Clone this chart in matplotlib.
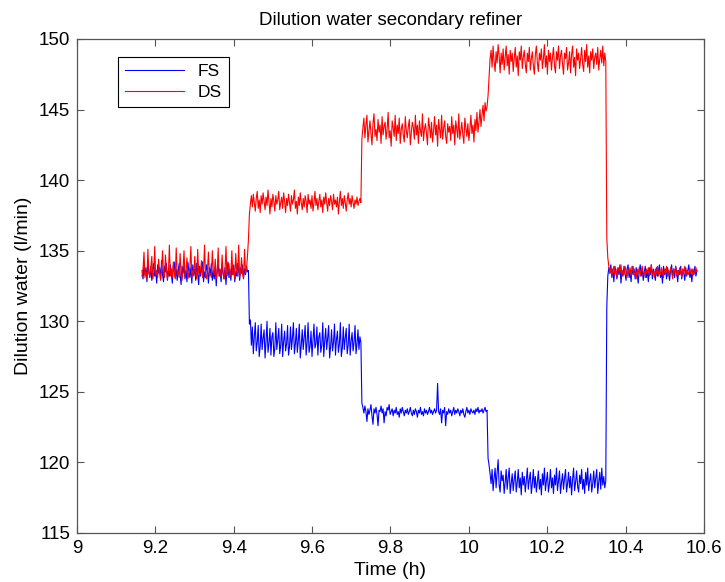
import matplotlib
matplotlib.use("Agg")
import matplotlib.pyplot as plt
import numpy as np

# step boundaries (h)
seg_edges = [9.166, 9.44, 9.727, 10.049, 10.352, 10.582]

# dilution water (l/min), one list per set-point segment
fs_seg1 = [133.6, 133.0, 134.0, 133.3, 133.8, 132.8, 134.2, 133.5, 133.1, 133.9,
           132.9, 133.7, 134.1, 133.2, 133.6, 132.7, 134.0, 133.4, 133.8, 133.0,
           134.3, 133.3, 132.8, 133.9, 133.5, 134.1, 132.9, 133.6, 133.2, 134.0,
           133.4, 132.7, 133.8, 134.2, 133.1, 133.7, 132.9, 133.5, 134.1, 133.3,
           132.6, 133.9, 133.4, 134.0, 133.0, 133.6, 132.8, 134.2, 133.5, 133.1,
           133.8, 132.7, 134.0, 133.3, 133.7, 132.9, 134.1, 133.4, 132.6, 133.9,
           133.2, 133.7, 134.2, 132.8, 133.5, 133.1, 134.0, 133.6, 132.7, 133.8,
           133.3, 134.1, 132.9, 133.6, 133.0, 133.9, 132.5, 133.7, 134.0, 133.2,
           133.5, 132.8, 134.1, 133.4, 133.0, 133.8, 132.6, 133.6, 134.2, 133.1,
           133.7, 132.9, 133.9, 133.3, 134.0, 132.8, 133.5, 133.2, 134.1, 133.6,
           132.9, 133.8, 133.4, 134.0, 133.1, 133.7, 133.3, 133.9, 133.5, 133.6]
fs_seg2 = [129.8, 130.1, 128.3, 129.6, 127.7, 128.9, 129.9, 127.9, 128.5, 129.7,
           127.5, 128.2, 129.8, 128.0, 128.8, 129.4, 127.4, 128.6, 130.0, 127.8,
           128.4, 129.5, 127.6, 128.9, 129.2, 127.5, 128.1, 129.9, 128.0, 128.7,
           129.5, 127.7, 128.3, 129.8, 127.5, 128.6, 129.3, 127.9, 128.4, 129.7,
           127.6, 128.2, 129.6, 128.0, 128.8, 129.9, 127.7, 128.4, 129.5, 127.8,
           128.6, 129.8, 127.4, 128.3, 129.4, 128.0, 128.9, 129.7, 127.6, 128.5,
           129.9, 127.8, 128.2, 129.3, 127.5, 128.7, 129.8, 128.1, 128.4, 129.6,
           127.6, 128.9, 129.2, 127.8, 128.3, 129.9, 127.5, 128.6, 129.5, 128.0,
           128.8, 129.7, 127.4, 128.2, 129.4, 127.9, 128.5, 129.8, 127.6, 128.7,
           129.3, 127.8, 128.4, 129.9, 127.5, 128.1, 129.6, 128.0, 128.8, 129.5,
           127.7, 128.3, 129.8, 127.6, 128.6, 129.2, 127.9, 128.5, 129.7, 127.7,
           128.4, 129.4, 128.0, 128.9, 128.5]
fs_seg3 = [124.2, 123.9, 123.5, 124.0, 123.6, 122.9, 123.8, 123.4, 123.7, 124.1,
           123.3, 122.7, 123.8, 123.5, 123.9, 123.4, 122.6, 123.7, 123.6, 124.0,
           123.5, 123.8, 122.8, 123.6, 123.3, 123.9, 123.7, 124.1, 123.4, 123.6,
           123.8, 123.3, 123.7, 123.5, 123.9, 123.4, 123.6, 123.2, 123.8, 123.5,
           123.9, 123.6, 123.3, 123.7, 123.5, 123.8, 123.4, 123.6, 123.9, 123.5,
           123.3, 123.7, 123.4, 123.8, 123.6, 123.2, 123.7, 123.5, 123.9, 123.4,
           123.6, 123.3, 123.8, 123.5, 123.7, 123.4, 123.6, 123.9, 123.5, 123.7,
           123.4, 123.6, 123.8, 123.5, 123.7, 125.6, 123.6, 123.4, 123.8, 122.8,
           123.7, 123.5, 123.9, 122.6, 123.6, 123.4, 123.8, 123.5, 123.7, 123.3,
           123.6, 123.9, 123.4, 123.7, 123.5, 123.8, 123.6, 123.3, 123.7, 123.5,
           123.8, 123.4, 123.2, 123.6, 123.9, 123.5, 123.7, 123.4, 123.8, 123.6,
           123.5, 123.7, 123.4, 123.8, 123.6, 123.9, 123.5, 123.7, 123.6, 123.8,
           123.5, 123.7, 123.9, 123.6, 123.7]
fs_seg4 = [120.3, 119.8, 119.2, 118.5, 119.5, 118.0, 118.9, 119.6, 118.2, 119.3,
           120.2, 118.4, 117.9, 119.4, 118.7, 119.1, 117.8, 118.6, 119.5, 118.1,
           118.9, 119.6, 117.8, 118.5, 119.2, 118.0, 118.8, 119.4, 117.9, 118.6,
           119.5, 118.2, 118.9, 117.7, 119.3, 118.4, 119.0, 117.9, 118.7, 119.6,
           118.1, 118.8, 119.3, 117.8, 118.5, 119.5, 118.2, 119.0, 117.9, 118.6,
           119.4, 118.1, 118.8, 117.7, 119.2, 118.4, 119.6, 118.0, 118.7, 119.3,
           117.9, 118.5, 119.5, 118.2, 118.9, 117.8, 119.1, 118.4, 119.6, 118.0,
           118.7, 119.4, 117.8, 118.6, 119.2, 118.1, 118.9, 119.5, 117.9, 118.5,
           119.3, 118.2, 119.0, 117.7, 118.8, 119.6, 118.0, 118.6, 119.4, 118.3,
           117.9, 119.1, 118.5, 119.5, 118.1, 118.8, 117.8, 119.3, 118.4, 119.6,
           118.0, 118.7, 119.2, 117.9, 118.5, 119.4, 118.2, 118.9, 119.5, 117.8,
           118.6, 119.3, 118.1, 119.6, 118.4, 119.0, 118.2, 118.7]
fs_seg5 = [131.0, 133.2, 133.8, 133.4, 134.0, 133.1, 133.7, 132.8, 133.9, 133.5,
           133.0, 133.8, 133.3, 134.0, 132.7, 133.6, 133.2, 133.9, 133.4, 132.9,
           133.7, 134.0, 133.1, 133.5, 132.8, 133.9, 133.3, 133.7, 133.0, 133.8,
           133.4, 132.7, 133.6, 134.0, 133.2, 133.7, 132.9, 133.5, 133.9, 133.1,
           133.6, 132.8, 133.8, 133.3, 134.0, 133.0, 133.7, 133.4, 132.9, 133.8,
           133.2, 133.6, 134.0, 133.1, 133.5, 132.7, 133.9, 133.3, 133.7, 133.0,
           133.8, 133.4, 132.9, 133.6, 134.0, 133.2, 133.7, 133.1, 133.9, 133.5,
           132.8, 133.6, 133.3, 133.9, 133.0, 133.7, 133.4, 132.9, 133.8, 133.2,
           133.6, 134.0, 133.1, 133.5, 132.8, 133.7, 133.3, 133.9, 133.2, 133.6]

ds_seg1 = [133.2, 133.7, 134.9, 133.1, 133.5, 133.0, 135.1, 133.4, 133.2, 133.8,
           134.6, 133.0, 133.4, 135.3, 133.2, 133.6, 133.1, 134.4, 133.5, 132.9,
           133.7, 135.0, 133.3, 133.1, 134.7, 133.6, 133.0, 133.4, 135.4, 133.2,
           133.7, 133.1, 134.2, 133.5, 133.0, 135.2, 133.3, 133.6, 133.1, 134.8,
           133.4, 132.9, 133.7, 135.0, 133.2, 133.5, 134.5, 133.0, 133.4, 133.8,
           135.3, 133.1, 133.6, 133.2, 134.6, 133.4, 133.0, 135.1, 133.5, 133.2,
           133.7, 134.3, 133.1, 133.5, 135.4, 133.3, 133.0, 133.6, 134.9, 133.2,
           133.4, 133.1, 135.0, 133.6, 133.3, 134.4, 133.0, 133.5, 135.2, 133.2,
           133.7, 133.1, 134.7, 133.4, 133.0, 133.6, 135.3, 133.2, 133.5, 134.1,
           133.1, 133.4, 135.0, 133.3, 133.7, 133.0, 134.8, 133.5, 133.2, 135.4,
           133.1, 133.6, 134.5, 133.3, 133.0, 135.1, 133.4, 133.7, 134.6, 135.8]
ds_seg2 = [137.6, 138.3, 138.9, 138.1, 139.0, 138.4, 137.8, 138.7, 139.2, 138.0,
           138.6, 137.7, 138.9, 138.3, 139.1, 138.5, 137.9, 138.8, 138.2, 139.3,
           138.4, 137.6, 138.7, 138.1, 139.0, 138.5, 137.8, 138.9, 138.3, 138.6,
           139.2, 137.9, 138.4, 138.8, 138.0, 139.1, 138.5, 137.7, 138.7, 138.2,
           139.0, 138.4, 137.8, 138.9, 138.3, 138.6, 139.3, 138.0, 138.5, 137.6,
           138.8, 138.2, 139.1, 138.4, 137.9, 138.7, 138.1, 138.9, 138.5, 137.7,
           139.0, 138.3, 138.6, 138.0, 138.9, 137.8, 138.4, 139.2, 138.2, 138.7,
           137.9, 138.5, 139.0, 138.1, 138.6, 137.7, 138.8, 138.3, 139.1, 138.4,
           137.8, 138.7, 138.2, 138.9, 138.5, 137.9, 139.0, 138.3, 138.6, 138.1,
           138.8, 137.6, 138.5, 139.2, 138.2, 138.7, 138.0, 138.9, 138.4, 137.8,
           138.6, 139.1, 138.3, 138.7, 138.1, 138.9, 138.4, 138.0, 138.6, 138.3,
           138.8, 138.2, 138.5, 138.7, 138.4]
ds_seg3 = [142.9, 143.7, 144.4, 143.0, 143.9, 144.6, 142.7, 143.5, 144.2, 143.3,
           142.5, 144.0, 144.7, 143.1, 143.6, 142.8, 144.3, 143.4, 143.9, 142.6,
           144.5, 143.2, 143.8, 144.1, 142.9, 143.6, 144.8, 143.0, 143.5, 142.4,
           144.2, 143.7, 143.1, 144.6, 142.8, 143.9, 143.3, 144.4, 142.6, 143.6,
           144.0, 143.2, 142.7, 144.5, 143.5, 143.0, 143.8, 144.3, 142.5, 143.4,
           144.1, 143.7, 142.9, 144.6, 143.2, 143.9, 142.6, 144.2, 143.5, 143.1,
           144.7, 142.8, 143.6, 144.0, 143.3, 142.5, 144.4, 143.8, 143.0, 144.1,
           142.7, 143.5, 144.5, 143.2, 143.9, 142.4, 144.3, 143.6, 143.0, 144.6,
           142.9, 143.7, 144.2, 143.1, 142.6, 144.0, 143.4, 143.8, 142.8, 144.5,
           143.3, 143.9, 142.5, 144.2, 143.6, 143.0, 144.7, 142.9, 143.5, 144.1,
           143.2, 142.6, 144.4, 143.7, 143.1, 144.0, 142.8, 143.6, 144.6, 143.3,
           143.9, 142.7, 144.3, 143.5, 144.8, 143.4, 144.1, 145.0, 143.8, 144.6,
           145.3, 144.2, 145.5, 144.9, 145.2]
ds_seg4 = [146.0, 147.3, 148.6, 149.2, 148.0, 149.5, 148.4, 147.7, 149.1, 148.3,
           149.6, 148.8, 147.6, 149.0, 148.2, 149.3, 147.8, 148.7, 149.5, 148.1,
           148.9, 147.5, 149.2, 148.4, 149.0, 147.7, 148.6, 149.4, 148.0, 148.8,
           147.4, 149.1, 148.5, 149.5, 147.9, 148.7, 149.2, 148.2, 147.6, 149.0,
           148.4, 149.4, 147.8, 148.6, 149.1, 148.1, 147.5, 148.9, 149.5, 148.3,
           147.7, 149.0, 148.5, 149.3, 147.9, 148.6, 149.6, 148.0, 148.8, 147.5,
           149.2, 148.4, 149.0, 147.8, 148.7, 149.4, 148.1, 147.6, 149.1, 148.5,
           149.5, 147.9, 148.8, 149.2, 148.2, 147.5, 149.0, 148.6, 149.4, 147.8,
           148.3, 149.1, 147.6, 148.9, 149.5, 148.0, 148.7, 147.4, 149.3, 148.5,
           149.0, 147.9, 148.6, 149.4, 148.2, 147.7, 149.2, 148.4, 149.6, 148.0,
           148.8, 147.6, 149.1, 148.5, 149.3, 147.9, 148.7, 149.0, 148.2, 149.4,
           147.8, 148.6, 149.2, 148.3, 149.5, 148.1, 149.0, 148.4]
ds_seg5 = [135.9, 134.5, 133.9, 133.4, 133.8, 133.2, 133.6, 133.9, 133.3, 133.7,
           133.1, 133.5, 133.8, 133.4, 134.0, 133.2, 133.6, 133.3, 133.9, 133.5,
           133.1, 133.7, 133.4, 133.8, 133.2, 133.6, 133.9, 133.3, 133.5, 133.0,
           133.7, 133.4, 133.8, 133.2, 133.6, 133.9, 133.3, 133.5, 133.1, 133.7,
           133.4, 133.8, 133.2, 133.6, 134.0, 133.3, 133.5, 133.1, 133.7, 133.4,
           133.9, 133.2, 133.6, 133.3, 133.8, 133.5, 133.1, 133.7, 133.4, 133.9,
           133.2, 133.6, 133.3, 133.8, 133.5, 133.0, 133.7, 133.4, 133.9, 133.2,
           133.6, 133.3, 133.8, 133.5, 133.1, 133.7, 133.4, 133.9, 133.2, 133.6,
           133.5, 133.3, 133.8, 133.4, 133.7, 133.2, 133.6, 133.4, 133.8, 133.5]

fs_segs = [fs_seg1, fs_seg2, fs_seg3, fs_seg4, fs_seg5]
ds_segs = [ds_seg1, ds_seg2, ds_seg3, ds_seg4, ds_seg5]


def series(segs):
    # time stamps: samples spread evenly over each segment
    t, v = [], []
    for i, s in enumerate(segs):
        last = i == len(segs) - 1
        t.append(np.linspace(seg_edges[i], seg_edges[i + 1], len(s), endpoint=last))
        v.append(np.asarray(s))
    return np.concatenate(t), np.concatenate(v)


plt.rcParams["font.family"] = ["Liberation Sans", "DejaVu Sans"]

fig = plt.figure(figsize=(7.25, 5.82), dpi=100)
ax = fig.add_axes([0.1062, 0.0842, 0.8648, 0.8488])

t_fs, fs = series(fs_segs)
t_ds, ds = series(ds_segs)
ax.plot(t_fs, fs, color="#0000ff", lw=0.8, label="FS")
ax.plot(t_ds, ds, color="#ff0000", lw=0.8, label="DS")

ax.set_xlim(9, 10.6)
ax.set_ylim(115, 150)
ax.set_xticks(np.arange(9, 10.61, 0.2))
ax.set_xticklabels(["9", "9.2", "9.4", "9.6", "9.8", "10", "10.2", "10.4", "10.6"])
ax.set_yticks(np.arange(115, 151, 5))

for sp in ax.spines.values():
    sp.set_color("#555555")
    sp.set_linewidth(0.9)
ax.tick_params(direction="in", top=True, right=True, length=5, width=0.8,
               color="#555555", labelsize=13.5, pad=5)

ax.set_title("Dilution water secondary refiner", fontsize=13.5, pad=10)
ax.set_xlabel("Time (h)", fontsize=14, labelpad=4)
ax.set_ylabel("Dilution water (l/min)", fontsize=14, labelpad=5)

leg = ax.legend(loc="upper left", bbox_to_anchor=(0.065, 0.964), borderaxespad=0,
                fancybox=False, framealpha=1, edgecolor="black", fontsize=12.5,
                handlelength=3.4, borderpad=0.4, labelspacing=0.35)
leg.get_frame().set_linewidth(0.8)

fig.savefig("out.png", dpi=100)
